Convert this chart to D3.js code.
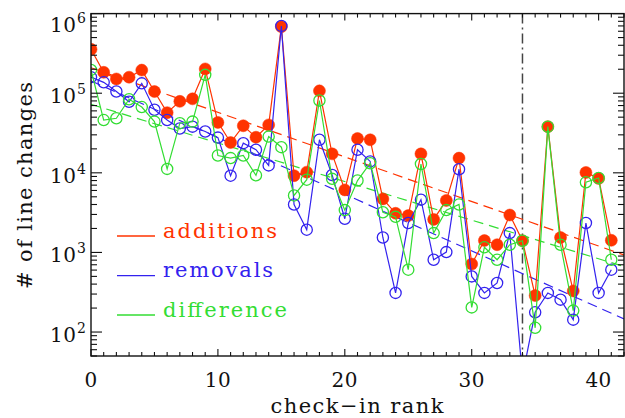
<!DOCTYPE html>
<html><head><meta charset="utf-8">
<script src="https://cdn.jsdelivr.net/npm/d3@7/dist/d3.min.js"></script>
<style>html,body{margin:0;padding:0;background:#fff;}svg{display:block;}</style>
</head><body>
<svg id="c" width="625" height="418"></svg>
<script>
// ---- data ----
const additions = [356000,183000,151000,159000,195000,105000,57000,79000,85000,202000,
  43000,24000,39000,28000,40000,685000,9200,10200,107000,17300,
  6100,27000,26000,4700,3100,2900,17300,2600,4500,15300,
  714,1410,1250,2950,1400,287,38000,1540,328,10100,
  8500,1420];
const removals = [159000,137000,105000,78000,133000,62000,46000,36000,38000,33000,
  27700,9200,23600,19500,12400,700000,4000,1930,26000,9400,
  2650,19500,13900,1540,310,2340,4600,809,1010,11100,
  500,310,413,1750,28,177,310,255,143,2340,
  310,607];
const difference = [196000,46000,48500,84000,67000,44000,11200,42000,44000,170000,
  16500,15300,16500,9300,28500,21000,5200,8200,81000,8400,
  3400,8000,13200,3200,2800,607,12900,1750,3400,4000,
  204,1160,809,1250,1400,113,38000,1250,186,7600,
  8600,809];
const seriesNames = ["additions","removals","difference"];
const fitLog10At0 = [5.32, 5.155, 4.86];
const fitLog10Slope = [-0.056, -0.0712, -0.0485];
const markerRank = 34;
const xTicks = [0,10,20,30,40];
const yTickExps = [2,3,4,5,6];

// ---- layout ----
const L = 91, R = 624, T = 13.6, B = 356;
const colors = ["#ff3300", "#3322ee", "#33dd33"];
const font = "'DejaVu Serif', serif";

const svg = d3.select("#c");
const x = d3.scaleLinear().domain([0, 42]).range([L, R]);
const y = d3.scaleLog().domain([50, 1e6]).range([B, T]);

svg.append("defs").append("clipPath").attr("id","clip")
  .append("rect").attr("x",L).attr("y",T).attr("width",R-L).attr("height",B-T);

const plot = svg.append("g").attr("clip-path","url(#clip)");

// vertical dash-dot marker
plot.append("line").attr("x1",x(markerRank)).attr("x2",x(markerRank))
  .attr("y1",T).attr("y2",B).attr("stroke","#444").attr("stroke-width",1.5)
  .attr("stroke-dasharray","10,4,2,4");

// fit lines
[0,1,2].forEach(k=>{
  const xs = [0, 42];
  plot.append("line")
    .attr("x1", x(xs[0])).attr("y1", y(Math.pow(10, fitLog10At0[k] + fitLog10Slope[k]*xs[0])))
    .attr("x2", x(xs[1])).attr("y2", y(Math.pow(10, fitLog10At0[k] + fitLog10Slope[k]*xs[1])))
    .attr("stroke", colors[k]).attr("stroke-width",1.2).attr("stroke-dasharray","10,6");
});

const series = [additions, removals, difference];
const line = d3.line().x((d,i)=>x(i)).y(d=>y(d));
series.forEach((data,k)=>{
  plot.append("path").datum(data).attr("d", line).attr("fill","none")
    .attr("stroke", colors[k]).attr("stroke-width",1.2);
  plot.selectAll(null).data(data).enter().append("circle")
    .attr("cx",(d,i)=>x(i)).attr("cy",d=>y(d)).attr("r", k===0?6:5.6)
    .attr("fill", k===0?colors[k]:"none")
    .attr("stroke", colors[k]).attr("stroke-width", k===0?0.5:1.3);
});

// frame
const axc = "#111";
svg.append("rect").attr("x",L).attr("y",T).attr("width",R-L).attr("height",B-T)
  .attr("fill","none").attr("stroke",axc).attr("stroke-width",1.4);

// x ticks (major 10, minor 1)
const tg = svg.append("g").attr("stroke",axc).attr("stroke-width",1.1);
for (let v = 0; v <= 42; v++) {
  const len = (v % 10 === 0) ? 7 : 4;
  tg.append("line").attr("x1",x(v)).attr("x2",x(v)).attr("y1",B).attr("y2",B-len);
  tg.append("line").attr("x1",x(v)).attr("x2",x(v)).attr("y1",T).attr("y2",T+len);
}
// y ticks
const yMajor = yTickExps.map(e=>Math.pow(10,e));
const yMinor = [];
[1,2,3,4,5].forEach(e=>{ for(let m=2;m<=9;m++){ const v=m*Math.pow(10,e); if(v>=50 && v<1e6) yMinor.push(v);} });
yMajor.forEach(v=>{
  tg.append("line").attr("x1",L).attr("x2",L+11).attr("y1",y(v)).attr("y2",y(v));
  tg.append("line").attr("x1",R).attr("x2",R-11).attr("y1",y(v)).attr("y2",y(v));
});
yMinor.forEach(v=>{
  tg.append("line").attr("x1",L).attr("x2",L+6).attr("y1",y(v)).attr("y2",y(v));
  tg.append("line").attr("x1",R).attr("x2",R-6).attr("y1",y(v)).attr("y2",y(v));
});

// x tick labels
svg.append("g").selectAll("text").data(xTicks).enter().append("text")
  .attr("x",d=>x(d)).attr("y",387).attr("text-anchor","middle")
  .attr("font-family",font).attr("font-size",20).attr("letter-spacing",0.5)
  .attr("fill","#111").text(d=>d);

// y tick labels 10^n
const yl = svg.append("g").attr("font-family",font).attr("fill","#111");
yTickExps.forEach(e=>{
  const ty = y(Math.pow(10,e)) + (e===6 ? 8 : 0);
  yl.append("text").attr("x",76).attr("y",ty+10).attr("text-anchor","end")
    .attr("font-size",20).attr("textLength",26).attr("lengthAdjust","spacing").text("10");
  yl.append("text").attr("x",77).attr("y",ty+1).attr("text-anchor","start")
    .attr("font-size",14).text(e);
});

// axis titles
svg.append("text").attr("x",357).attr("y",413).attr("text-anchor","middle")
  .attr("font-family",font).attr("font-size",21).attr("fill","#111")
  .attr("textLength",173).attr("lengthAdjust","spacing").text("check−in rank");
svg.append("text").attr("transform","translate(32,185.5) rotate(-90)")
  .attr("text-anchor","middle").attr("font-family",font).attr("font-size",21)
  .attr("fill","#111").attr("textLength",207).attr("lengthAdjust","spacing")
  .text("# of line changes");

// legend
const legY = [236, 275.7, 315];
const legLen = [114, 110, 124];
seriesNames.forEach((n,k)=>{
  svg.append("line").attr("x1",117).attr("x2",155).attr("y1",legY[k]).attr("y2",legY[k])
    .attr("stroke",colors[k]).attr("stroke-width",1.3);
  svg.append("text").attr("x",163).attr("y",legY[k]+1.5)
    .attr("font-family",font).attr("font-size",21).attr("fill",colors[k])
    .attr("textLength",legLen[k]).attr("lengthAdjust","spacing").text(n);
});
</script>
</body></html>
